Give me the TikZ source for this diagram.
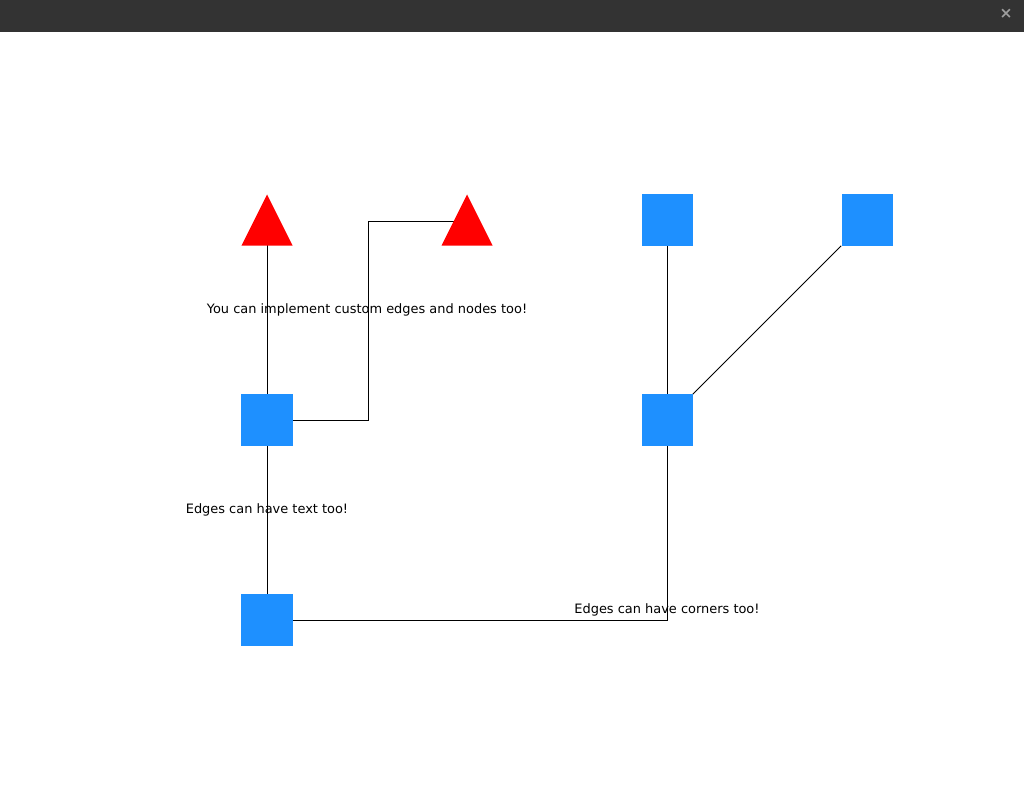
\documentclass[tikz,border=0pt]{standalone}
\usepackage{fontspec}
\setmainfont{DejaVu Sans}
\usetikzlibrary{backgrounds}
\definecolor{boxblue}{HTML}{1E90FF}
\definecolor{bardark}{HTML}{333333}
\tikzset{
  sq/.style={fill=boxblue,minimum size=1.275cm,inner sep=0pt},
  tri/.style={minimum size=1.275cm,inner sep=0pt,
    path picture={\fill[red] (path picture bounding box.south west) -- (path picture bounding box.south east) -- (path picture bounding box.north) -- cycle;}},
  lbl/.style={font=\fontsize{9.2}{11}\selectfont,inner sep=0pt},
  wire/.style={black,line width=0.7pt}
}
\begin{document}
\begin{tikzpicture}[x=0.025cm,y=-0.025cm]
  \useasboundingbox (0,0) rectangle (1024,800);
  \fill[bardark] (0,0) rectangle (1024,32);
  \node[text=gray!75,font=\fontsize{11}{11}\selectfont\bfseries] (close) at (1006,14) {×};
  % nodes
  \node[tri] (t1) at (267,220) {};
  \node[tri] (t2) at (467,220) {};
  \node[sq] (s1) at (267,420) {};
  \node[sq] (s2) at (667,220) {};
  \node[sq] (s3) at (867,220) {};
  \node[sq] (s4) at (667,420) {};
  \node[sq] (s5) at (267,620) {};
  \coordinate (k1) at (368,420);
  % edges
  \begin{scope}[on background layer]
    \draw[wire] (t1.center) -- (s1);
    \draw[wire] (s1.east) -- (k1) |- ([yshift=-0.025cm]t2.center);
    \draw[wire] (s1) -- (s5);
    \draw[wire] (s2) -- (s4);
    \draw[wire] (s3.south west) -- (s4.north east);
    \draw[wire] (s5.east) -| (s4.south);
  \end{scope}
  \node[lbl] (n1) at (367,310) {You can implement custom edges and nodes too!};
  \node[lbl] (n2) at (267,510) {Edges can have text too!};
  \node[lbl] (n3) at (667,610) {Edges can have corners too!};
\end{tikzpicture}
\end{document}
